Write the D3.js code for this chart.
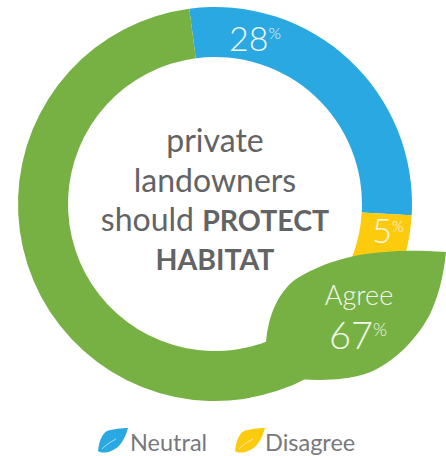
<!DOCTYPE html>
<html>
<head>
<meta charset="utf-8">
<script src="https://cdnjs.cloudflare.com/ajax/libs/d3/7.8.5/d3.min.js"></script>
<style>
html,body{margin:0;padding:0;background:#fff;overflow:hidden}
svg{display:block}
text{font-family:Lato,"Open Sans",sans-serif}
</style>
</head>
<body>
<svg id="chart" width="446" height="456"></svg>
<script>
const categories = ["Neutral", "Disagree", "Agree"];
const values = [28, 5, 67];
const colors = ["#29a8e2", "#fdcb0e", "#77b144"];
const centerLines = [["private"], ["landowners"], ["should ", "PROTECT"], ["HABITAT"]];
const legendItems = ["Neutral", "Disagree"];

const svg = d3.select("#chart");
const cx = 215, cy = 204, outer = 197, inner = 147;
const rotation = -7.5 * Math.PI / 180;

// Ring, clockwise from just left of twelve o'clock
const pie = d3.pie().sort(null)
  .startAngle(rotation).endAngle(rotation + 2 * Math.PI);
const arc = d3.arc().innerRadius(inner).outerRadius(outer);
const slices = pie(values);

svg.append("g").attr("transform", `translate(${cx},${cy})`)
  .selectAll("path").data(slices).join("path")
  .attr("d", arc)
  .attr("fill", (d, i) => colors[i]);

// Large leaf holding the Agree value; its base joins the ring
svg.append("path")
  .attr("d", "M446,252 C425,251 405,250 385,252 C350,254 318,265 296,279 C278,292 268,316 266,342 L262,352 L300,379 C322,381 345,380 365,374 C395,364 420,335 431,312 C440,292 444,272 446,252 Z")
  .attr("fill", colors[2]);

// Value labels with a small superscript percent sign
function pct(x, y, num, size, supSize, dy) {
  const t = svg.append("text")
    .attr("x", x).attr("y", y)
    .attr("text-anchor", "middle")
    .attr("fill", "#f2f8ec")
    .attr("font-weight", 300)
    .attr("font-size", size);
  t.append("tspan").text(num);
  t.append("tspan").attr("font-size", supSize).attr("dy", dy).text("%");
}
pct(255, 51, values[0], 34, 16, -12);
pct(388, 243, values[1], 34, 15, -11);
pct(358, 349, values[2], 38, 18, -13);

svg.append("text")
  .attr("x", 359).attr("y", 305)
  .attr("text-anchor", "middle")
  .attr("fill", "#f2f8ec")
  .attr("font-weight", 300)
  .attr("font-size", 27)
  .text(categories[2]);

// Centre statement
const lineY = [152, 192, 231, 270];
centerLines.forEach((parts, i) => {
  const t = svg.append("text")
    .attr("x", 215).attr("y", lineY[i])
    .attr("text-anchor", "middle")
    .attr("fill", "#626365");
  parts.forEach(p => {
    const bold = p === p.toUpperCase();
    t.append("tspan")
      .attr("font-weight", bold ? 700 : 400)
      .attr("font-size", bold ? 28.5 : 32)
      .attr("xml:space", "preserve")
      .text(p);
  });
});

// Legend: small leaf with a white vein, then the category name
const legendX = [98, 235];
const legendText = [130, 265];
legendItems.forEach((name, i) => {
  const g = svg.append("g").attr("transform", `translate(${legendX[i]},428)`);
  g.append("path")
    .attr("d", "M30,0 C24,0 15,1 9,3 C4,6 1,13 0,23 C3,25 8,25 13,23 C22,20 27,11 30,0 Z")
    .attr("fill", colors[i]);
  g.append("path")
    .attr("d", "M4,21 C8,17 12,14 18,11")
    .attr("fill", "none")
    .attr("stroke", "#fff")
    .attr("stroke-opacity", 0.6)
    .attr("stroke-width", 1);
  svg.append("text")
    .attr("x", legendText[i]).attr("y", 451)
    .attr("fill", "#77787b")
    .attr("font-weight", 400)
    .attr("font-size", 23.5)
    .text(name);
});
</script>
</body>
</html>
